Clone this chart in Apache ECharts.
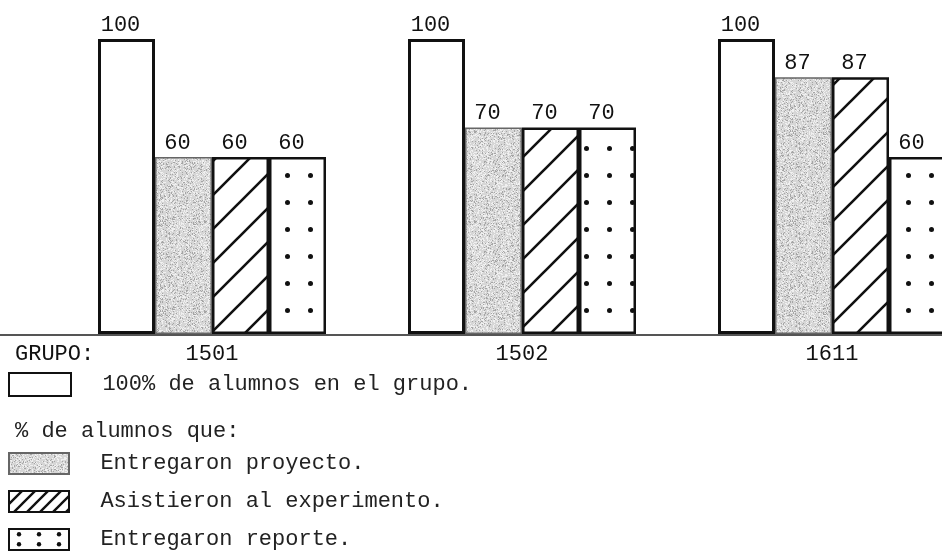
<!DOCTYPE html>
<html lang="es">

<head>
    <meta charset="UTF-8">
    <title>Grupos</title>
    <script src="https://cdn.jsdelivr.net/npm/echarts@6/dist/echarts.min.js"></script>
    <style>
        body { margin: 0; background: #fff; }
    </style>
</head>

<body>

    <div id='main' style="width: 942px;height: 556px;"></div>

    <script>
        // datos
        var grupos = ['1501', '1502', '1611'];
        var total = [100, 100, 100];
        var proyecto = [60, 70, 87];
        var experimento = [60, 70, 87];
        var reporte = [60, 70, 60];

        var nombres = ['100% de alumnos en el grupo.', 'Entregaron proyecto.',
            'Asistieron al experimento.', 'Entregaron reporte.'];

        var fuente = '"Liberation Mono", "DejaVu Sans Mono", monospace';

        // texturas
        function ruido(i) {
            var x = Math.sin(i * 12.9898) * 43758.5453;
            return x - Math.floor(x);
        }
        function gris() {
            var c = document.createElement('canvas');
            c.width = c.height = 90;
            var g = c.getContext('2d');
            var img = g.createImageData(90, 90);
            for (var i = 0; i < 90 * 90; i++) {
                var r = ruido(i + 1);
                var v = r < 0.14 ? 165 : (r > 0.75 ? 240 : 214);
                img.data[i * 4] = img.data[i * 4 + 1] = img.data[i * 4 + 2] = v;
                img.data[i * 4 + 3] = 255;
            }
            g.putImageData(img, 0, 0);
            return { image: c, repeat: 'repeat' };
        }
        function rayas(s, w) {
            var c = document.createElement('canvas');
            c.width = c.height = s;
            var g = c.getContext('2d');
            g.fillStyle = '#fff';
            g.fillRect(0, 0, s, s);
            g.strokeStyle = '#111';
            g.lineWidth = w;
            g.beginPath();
            [-s, 0, s].forEach(function (k) {
                g.moveTo(k - 3, s + 3);
                g.lineTo(k + s + 3, -3);
            });
            g.stroke();
            return { image: c, repeat: 'repeat' };
        }
        function puntos(w, h, r) {
            var c = document.createElement('canvas');
            c.width = w; c.height = h;
            var g = c.getContext('2d');
            g.fillStyle = '#fff';
            g.fillRect(0, 0, w, h);
            g.fillStyle = '#111';
            g.beginPath();
            g.arc(w / 2, h / 2, r, 0, Math.PI * 2);
            g.fill();
            return { image: c, repeat: 'repeat' };
        }

        var etiqueta = {
            show: true,
            position: 'top',
            distance: 3,
            offset: [-6, 0],
            fontFamily: fuente,
            fontSize: 22,
            color: '#111'
        };
        var textoLeyenda = { fontFamily: fuente, fontSize: 22, color: '#222' };
        var conEspacio = function (name) { return '  ' + name; };

        var myChart = echarts.init(document.getElementById('main'));

        var option = {
            animation: false,
            grid: { left: 57, width: 930, top: 39, height: 295, outerBoundsMode: 'none' },
            legend: [{
                data: [nombres[0]],
                left: 8, top: 372, padding: 0,
                icon: 'rect', itemWidth: 62, itemHeight: 23,
                selectedMode: false,
                formatter: conEspacio,
                textStyle: textoLeyenda
            }, {
                data: [
                    { name: nombres[1] },
                    { name: nombres[2], itemStyle: { color: rayas(13, 2.4) } },
                    { name: nombres[3], itemStyle: { color: puntos(20, 10.5, 2.2) } }
                ],
                orient: 'vertical',
                left: 8, top: 452, padding: 0,
                icon: 'rect', itemWidth: 60, itemHeight: 21, itemGap: 15,
                selectedMode: false,
                formatter: conEspacio,
                textStyle: textoLeyenda
            }],
            xAxis: {
                type: 'category',
                data: grupos,
                axisLine: { show: false },
                axisTick: { show: false },
                axisLabel: { margin: 9, fontFamily: fuente, fontSize: 22, color: '#111' }
            },
            yAxis: {
                type: 'value',
                min: 0, max: 100,
                show: false
            },
            series: [{
                name: nombres[0], type: 'bar', data: total,
                barWidth: 57, barGap: 0,
                itemStyle: { color: '#fff', borderColor: '#111', borderWidth: 3 },
                label: etiqueta
            }, {
                name: nombres[1], type: 'bar', data: proyecto,
                barWidth: 57, barGap: 0,
                itemStyle: { color: gris(), borderColor: '#666', borderWidth: 1.5 },
                label: etiqueta
            }, {
                name: nombres[2], type: 'bar', data: experimento,
                barWidth: 57, barGap: 0,
                itemStyle: { color: rayas(34, 2.6), borderColor: '#111', borderWidth: 2.5 },
                label: etiqueta
            }, {
                name: nombres[3], type: 'bar', data: reporte,
                barWidth: 57, barGap: 0,
                itemStyle: { color: puntos(23, 27, 2.5), borderColor: '#111', borderWidth: 2.5 },
                label: etiqueta
            }]
        };
        myChart.setOption(option);

        // linea base y textos sueltos
        var y0 = myChart.convertToPixel({ yAxisIndex: 0 }, 0);
        myChart.setOption({
            graphic: [{
                type: 'line',
                shape: { x1: 0, y1: y0 + 1, x2: 942, y2: y0 + 1 },
                style: { stroke: '#555', lineWidth: 2 },
                z: 10
            }, {
                type: 'text', left: 15, top: 343,
                style: { text: 'GRUPO:', font: '22px ' + fuente, fill: '#111' }
            }, {
                type: 'text', left: 15, top: 420,
                style: { text: '% de alumnos que:', font: '22px ' + fuente, fill: '#222' }
            }]
        });
    </script>
</body>

</html>
